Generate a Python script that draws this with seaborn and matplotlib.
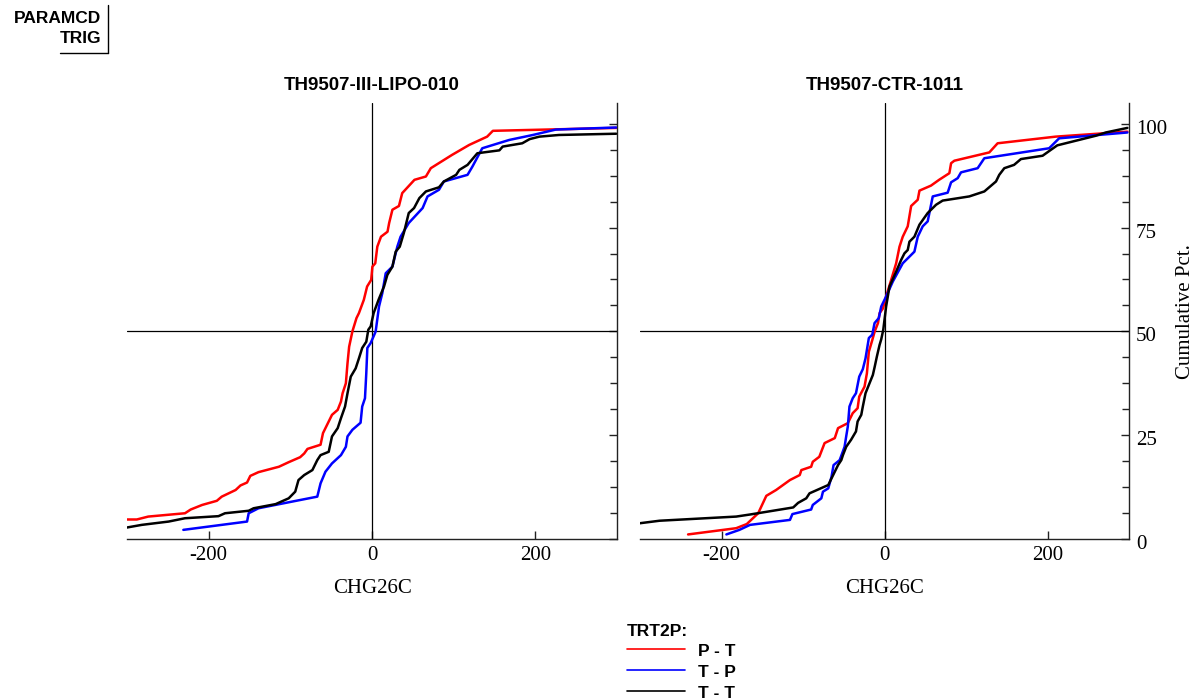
import numpy as np
import pandas as pd
import matplotlib
matplotlib.use("Agg")
import matplotlib.pyplot as plt
import matplotlib.transforms as mtransforms
from matplotlib.lines import Line2D
from matplotlib.ticker import MultipleLocator, FixedLocator
import seaborn as sns

# ---------------- data ----------------
panels = ["TH9507-III-LIPO-010", "TH9507-CTR-1011"]
groups = ["P - T", "T - P", "T - T"]
colors = ["#FF0000", "#0000FF", "#000000"]

# Panel 1: TH9507-III-LIPO-010
p1_pt_x = [-302, -288, -274, -229, -222, -208, -190, -184, -167, -161, -153, -149, -139, -114, -102,
           -88, -83, -79, -63, -60, -53, -49, -42, -38, -36, -32, -30, -28, -24, -19, -16, -10, -6, -1,
           0.5, 4, 6.5, 11, 19, 21, 25, 33, 37, 52, 66, 72, 98, 119, 141, 148, 299]
p1_pt_y = [4.7, 4.7, 5.4, 6.2, 7.1, 8.2, 9.2, 10.2, 11.8, 12.9, 13.6, 15.2, 16.1, 17.4, 18.5,
           19.7, 20.6, 21.7, 22.7, 25.5, 28.3, 29.9, 31.1, 33.1, 35.1, 37.5, 42.3, 46.3, 50, 53.2, 54.4,
           57.6, 60.8, 62.4, 65.6, 66.4, 70.4, 72.8, 74, 76.1, 79.3, 80.2, 83.3, 86.5, 87.3, 89.3, 92.5,
           94.9, 96.9, 98.3, 99.0]
p1_tp_x = [-231, -153, -151, -139, -98, -67, -63, -57, -49, -38, -32, -30, -24, -14, -12, -8.6, -7,
           -5.7, -1.6, 3.7, 4.5, 8.6, 12.6, 16.8, 25, 31, 35, 45, 62, 68, 82, 88, 117, 123, 135, 168,
           197, 225, 299]
p1_tp_y = [2.2, 4.2, 6.2, 7.4, 9.0, 10.2, 13.4, 16.2, 18.2, 20.2, 22.2, 24.7, 26.3, 28.0, 31.9, 33.9,
           39.9, 46, 47.2, 49.6, 50, 56, 59.2, 64, 65.6, 70.4, 72.8, 76.1, 79.7, 82.5, 84.1, 86.1, 87.7,
           89.7, 94.1, 96.1, 97.3, 98.6, 99.1]
p1_tt_x = [-302, -282, -249, -229, -188, -180, -151, -145, -118, -102, -94, -90, -83, -73, -67, -63,
           -53, -49, -42, -38, -33, -30, -26, -20, -16, -12, -7, -4.5, -1.6, 2, 8, 14.7, 18.8, 25, 29,
           34, 39, 45, 51.5, 58, 66, 82, 88, 103, 107, 117, 129, 156, 160, 184, 193, 205, 229, 299]
p1_tt_y = [2.7, 3.4, 4.2, 5.0, 5.5, 6.2, 6.8, 7.4, 8.4, 9.8, 11.4, 14.2, 15.4, 16.6, 19, 20.2, 21,
           24.7, 26.7, 29.1, 31.9, 35.1, 39.1, 41.1, 43.5, 46, 47.5, 50.4, 51.2, 54.4, 57.6, 60.8, 63.6,
           65.6, 69.2, 70.4, 73.7, 78.5, 79.7, 82.1, 83.7, 84.7, 86.1, 87.7, 88.9, 90.1, 92.9, 93.6,
           94.5, 95.3, 96.3, 96.9, 97.3, 97.6]

# Panel 2: TH9507-CTR-1011
p2_pt_x = [-241, -182, -169, -155, -145, -133, -116, -104, -102, -90, -88, -80, -73.5, -61, -57, -45,
           -39, -33, -31, -24.5, -21.6, -19.2, -15, -12, -8, -6, -2, 2, 8.2, 14.3, 18.4, 22.4, 28.5,
           32.7, 40.8, 42.9, 57, 67, 79.6, 81.7, 85.7, 128.6, 138.8, 210, 298]
p2_pt_y = [1.1, 2.6, 3.6, 6.2, 10.4, 11.8, 14.2, 15.4, 16.6, 17.4, 18.6, 19.8, 23.1, 24.3, 26.7, 27.9,
           30.3, 31.5, 34.3, 36.7, 39.9, 45.1, 47.9, 50, 52, 54.4, 55.5, 58.4, 62.4, 66.4, 70.4, 72.8,
           75.3, 80.2, 81.7, 83.9, 85.1, 86.5, 88.1, 90.5, 91.1, 93.1, 95.3, 96.9, 98.1]
p2_tp_x = [-194, -178, -165, -116, -113, -90, -88, -77.5, -75.5, -69, -65, -62.5, -55, -49, -47, -45,
           -43, -39, -35, -31, -26.6, -23.3, -19.2, -15, -12.2, -7, -4, 2, 10.2, 22.4, 30.6, 36.7, 40.8,
           46.9, 53, 59.2, 77.5, 81.7, 89.8, 93.9, 114.3, 122.5, 202, 214.3, 298]
p2_tp_y = [1.1, 2.2, 3.4, 4.6, 6.0, 7.1, 8.2, 9.8, 11.4, 12.2, 15.0, 17.8, 19, 22.2, 24.7, 27.1, 31.9,
           33.9, 35.1, 39.1, 40.9, 43.5, 48.4, 49.2, 52, 53.2, 56, 58.4, 62, 66.4, 68, 69.2, 72.8, 75.3,
           76.5, 82.5, 83.4, 85.9, 86.9, 88.3, 89.3, 91.7, 94.1, 96.5, 97.9]
p2_tt_x = [-300, -276, -182, -165, -112, -106, -96, -92, -69, -63, -57, -53, -51, -47, -41, -35, -33,
           -28.5, -26.6, -23.3, -18.4, -14.3, -12, -9.4, -6.1, -4, -1.5, 2, 6.1, 14.3, 20.4, 24.5, 28.5,
           30.6, 36.7, 42.9, 53, 63.3, 71.4, 87.8, 104, 122.5, 136.8, 140.8, 147, 159, 167.4, 194, 204,
           212, 259, 271.5, 298]
p2_tt_y = [3.8, 4.4, 5.4, 5.9, 7.6, 8.7, 9.8, 11, 13, 15.4, 17.8, 19, 20.2, 22.2, 23.9, 25.9, 28.3,
           29.9, 31.9, 35.1, 37.5, 39.5, 41.5, 43.9, 46.7, 48.1, 50.4, 56, 60.8, 64.4, 67.2, 68.8, 69.6,
           71.6, 72.8, 75.7, 78.5, 80.5, 81.5, 82, 82.5, 83.7, 86.1, 87.7, 89.3, 90.1, 91.5, 92.3, 93.7,
           94.8, 97.1, 97.9, 99.0]

y_major = [0, 25, 50, 75, 100]
x_major = [-200, 0, 200]

series = {
    panels[0]: [(p1_pt_x, p1_pt_y), (p1_tp_x, p1_tp_y), (p1_tt_x, p1_tt_y)],
    panels[1]: [(p2_pt_x, p2_pt_y), (p2_tp_x, p2_tp_y), (p2_tt_x, p2_tt_y)],
}
rows = []
for pan, lst in series.items():
    for g, (xs, ys) in zip(groups, lst):
        for i, (xv, yv) in enumerate(zip(xs, ys)):
            rows.append({"PANEL": pan, "TRT2P": g, "CHG26C": xv, "PCT": yv, "ord": i})
df = pd.DataFrame(rows)

# ---------------- styling ----------------
sns.set_style("white")
plt.rcParams["font.family"] = ["Liberation Sans", "DejaVu Sans"]
plt.rcParams["axes.unicode_minus"] = False
for key in ["text.color", "axes.labelcolor", "xtick.color", "ytick.color", "axes.edgecolor"]:
    plt.rcParams[key] = "black"
SERIF = ["Liberation Serif", "DejaVu Serif"]
SANS = ["Liberation Sans", "DejaVu Sans"]

W, H = 1202, 700
fig = plt.figure(figsize=(W / 100, H / 100), dpi=100)
fig.patch.set_facecolor("white")

def fx(px):
    return px / W

def fy(py):
    return 1 - py / H

ax_boxes = [(127, 617), (640, 1129)]
top, bottom = 103, 539
palette = dict(zip(groups, colors))

for k, (pan, (x0, x1)) in enumerate(zip(panels, ax_boxes)):
    ax = fig.add_axes([fx(x0), fy(bottom), (x1 - x0) / W, (bottom - top) / H])
    ax.set_facecolor("white")
    sub = df[df["PANEL"] == pan]
    sns.lineplot(data=sub, x="CHG26C", y="PCT", hue="TRT2P", hue_order=groups,
                 palette=palette, sort=False, estimator=None, units="TRT2P",
                 legend=False, lw=1.8, ax=ax, zorder=3)
    ax.axvline(0, color="black", lw=0.9, zorder=2)
    ax.axhline(50, color="black", lw=0.9, zorder=2)
    ax.set_xlim(-300, 300)
    ax.set_ylim(0, 105)
    for s in ["left", "top"]:
        ax.spines[s].set_visible(False)
    for s in ["bottom", "right"]:
        ax.spines[s].set_visible(True)
        ax.spines[s].set_color("#222222")
        ax.spines[s].set_linewidth(1.0)
    ax.xaxis.set_major_locator(FixedLocator(x_major))
    ax.yaxis.set_major_locator(FixedLocator(y_major))
    ax.yaxis.set_minor_locator(MultipleLocator(6.25))
    ax.yaxis.tick_right()
    ax.tick_params(axis="x", direction="in", length=6, width=1, color="#222222",
                   labelsize=15, pad=5, bottom=True, top=False, labelcolor="black")
    ax.tick_params(axis="y", which="both", direction="in", width=1, color="#222222",
                   right=True, left=False, labelright=(k == 1), labelleft=False,
                   labelcolor="black")
    ax.tick_params(axis="y", which="major", length=6, labelsize=15, pad=5)
    ax.tick_params(axis="y", which="minor", length=5)
    offset = mtransforms.ScaledTranslation(0, -3 / 100, fig.dpi_scale_trans)
    for lab in ax.get_yticklabels():
        lab.set_family(SERIF)
        lab.set_transform(lab.get_transform() + offset)
    for lab in ax.get_xticklabels():
        lab.set_family(SERIF)
    ax.set_xlabel("CHG26C", fontsize=15, family=SERIF, labelpad=10, color="black")
    ax.set_ylabel("")
    ax.grid(False)
    fig.text(fx((x0 + x1) / 2), fy(85), pan, ha="center", va="center",
             fontsize=13.5, fontweight="bold", family=SANS, color="black")

fig.text(fx(1186), fy(312), "Cumulative Pct.", rotation=90, ha="center", va="center",
         fontsize=15, family=SERIF, color="black")

# header block
fig.text(fx(101), fy(23), "PARAMCD", ha="right", va="baseline", fontsize=12.5,
         fontweight="bold", family=SANS, color="black")
fig.text(fx(101), fy(43), "TRIG", ha="right", va="baseline", fontsize=12.5,
         fontweight="bold", family=SANS, color="black")
fig.add_artist(Line2D([fx(108), fx(108)], [fy(5), fy(53)], color="black", lw=1.0))
fig.add_artist(Line2D([fx(60), fx(108)], [fy(53), fy(53)], color="black", lw=1.0))

# legend
fig.text(fx(627), fy(636), "TRT2P:", ha="left", va="baseline", fontsize=12.5,
         fontweight="bold", family=SANS, color="black")
for i, (g, c) in enumerate(zip(groups, colors)):
    yy = 649 + i * 21
    fig.add_artist(Line2D([fx(627), fx(685)], [fy(yy), fy(yy)], color=c, lw=1.2))
    fig.text(fx(698), fy(yy + 7), g, ha="left", va="baseline", fontsize=12.5,
             fontweight="bold", family=SANS, color="black")

fig.savefig("out.png", dpi=100, facecolor="white")
